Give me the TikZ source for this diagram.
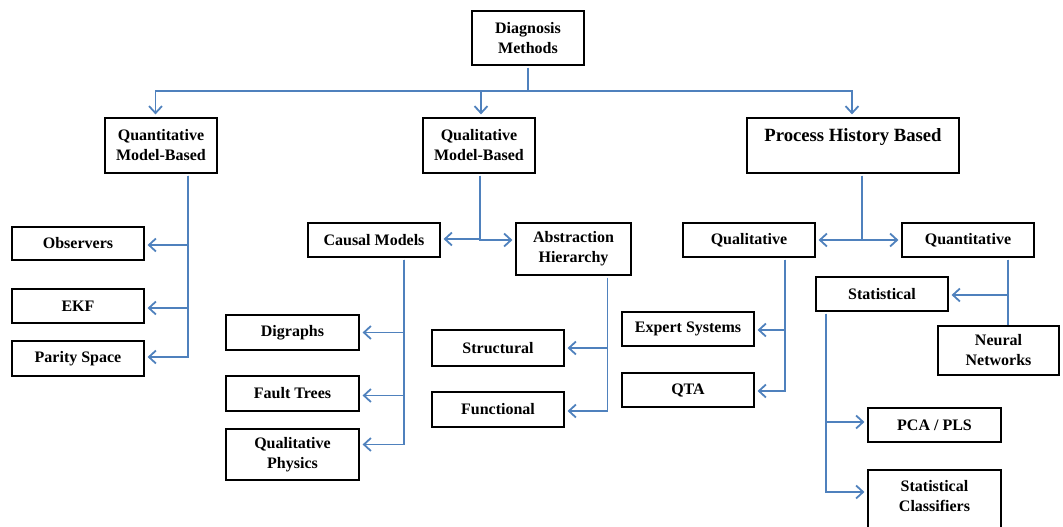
\documentclass[tikz,border=0pt]{standalone}
\usepackage{fontspec}
\setmainfont{Liberation Serif}
\usetikzlibrary{arrows.meta}
\definecolor{lineblue}{RGB}{79,129,189}
\begin{document}
\begin{tikzpicture}[x=1pt,y=-1pt,
  box/.style={draw=black, line width=2.6pt, rectangle, inner sep=0pt, align=center,
    minimum width=132pt, minimum height=34pt, font=\fontsize{16}{20}\selectfont\bfseries},
  txt/.style={inner sep=0pt, align=center, font=\fontsize{16}{20}\selectfont\bfseries},
  conn/.style={draw=lineblue, line width=1.8pt},
  arr/.style={conn, shorten >=1pt, -{Straight Barb[length=7pt,width=13pt]}},
  ]
\useasboundingbox (0,0) rectangle (1063,527);
% level 0
\node[box, minimum width=112pt, minimum height=54pt] (diag) at (528,38) {Diagnosis\\Methods};
% level 1
\node[box, minimum width=112pt, minimum height=55pt] (qmb) at (161,145.5) {Quantitative\\Model-Based};
\node[box, minimum width=112pt, minimum height=55pt] (qlmb) at (479,145.5) {Qualitative\\Model-Based};
\node[box, minimum width=212pt, minimum height=55pt] (phb) at (853,145.5) {};
\node[txt, font=\fontsize{18.7}{22}\selectfont\bfseries] (phbt) at (853,137) {Process History Based};
% quantitative model based children
\node[box, minimum height=33pt] (obs) at (78,243.5) {Observers};
\node[box] (ekf) at (78,306) {EKF};
\node[box, minimum height=35pt] (par) at (78,358.5) {Parity Space};
% qualitative model based children
\node[box] (causal) at (374,240) {Causal Models};
\node[box, minimum width=115pt, minimum height=52pt] (abs) at (573.5,249) {Abstraction\\Hierarchy};
\node[box, minimum width=133pt, minimum height=35pt] (dig) at (292.5,332.5) {Digraphs};
\node[box, minimum width=133pt, minimum height=35pt] (ft) at (292.5,393.5) {Fault Trees};
\node[box, minimum width=133pt, minimum height=51pt] (qp) at (292.5,454.5) {Qualitative\\Physics};
\node[box, minimum height=36pt] (str) at (498,348) {Structural};
\node[box, minimum height=35pt] (fun) at (498,409.5) {Functional};
% process history children
\node[box] (ql) at (749,240) {Qualitative};
\node[box] (qn) at (968,240) {Quantitative};
\node[box] (exp) at (688,329) {Expert Systems};
\node[box] (qta) at (688,390) {QTA};
\node[box] (stat) at (882,294) {Statistical};
\node[box, minimum width=121pt, minimum height=49pt] (nn) at (998.5,350.5) {Neural\\Networks};
\node[box, minimum width=133pt] (pca) at (934.5,425) {PCA / PLS};
\node[box, minimum width=133pt, minimum height=61pt] (sc) at (934.5,500.5) {};
\node[txt] (sct) at (934.5,496) {Statistical\\Classifiers};
% level 0 -> level 1
\coordinate (j0) at ([yshift=-1.3pt]diag.south);
\coordinate (bus) at (528,91);
\draw[conn] (j0) -- (bus);
\draw[arr] (bus) -| ([xshift=-5.5pt,yshift=1.3pt]qmb.north);
\draw[arr] (bus) -| ([xshift=2pt,yshift=1.3pt]qlmb.north);
\draw[arr] (bus) -| ([xshift=-1pt,yshift=1.3pt]phb.north);
% quantitative model-based
\coordinate (t1) at ([xshift=27pt,yshift=-1.3pt]qmb.south);
\draw[arr] (t1) |- ([xshift=1.3pt,yshift=-1.5pt]obs.east);
\draw[arr] (t1) |- ([xshift=1.3pt,yshift=-2pt]ekf.east);
\draw[arr] (t1) |- ([xshift=1.3pt,yshift=1.5pt]par.east);
% qualitative model-based
\coordinate (t2) at ([xshift=1pt,yshift=-1.3pt]qlmb.south);
\draw[arr] (t2) |- ([xshift=1.3pt,yshift=1pt]causal.east);
\draw[arr] (t2) |- ([xshift=-1.3pt]causal.east -| abs.west);
\coordinate (t3) at ([xshift=30pt,yshift=-1.3pt]causal.south);
\draw[arr] (t3) |- ([xshift=1.3pt]dig.east);
\draw[arr] (t3) |- ([xshift=1.3pt,yshift=-2pt]ft.east);
\draw[arr] (t3) |- ([xshift=1.3pt,yshift=10pt]qp.east);
\coordinate (t4) at ([xshift=34pt,yshift=-1.3pt]abs.south);
\draw[arr] (t4) |- ([xshift=1.3pt]str.east);
\draw[arr] (t4) |- ([xshift=1.3pt,yshift=-1.5pt]fun.east);
% process history based
\coordinate (t5) at ([xshift=9pt,yshift=-1.3pt]phb.south);
\draw[arr] (t5) |- ([xshift=1.3pt]ql.east);
\draw[arr] (t5) |- ([xshift=-1.3pt]ql.east -| qn.west);
\coordinate (t6) at ([xshift=36pt,yshift=-1.3pt]ql.south);
\draw[arr] (t6) |- ([xshift=1.3pt,yshift=-1pt]exp.east);
\draw[arr] (t6) |- ([xshift=1.3pt,yshift=-1pt]qta.east);
\coordinate (t7) at ([xshift=40pt,yshift=-1.3pt]qn.south);
\draw[conn] (t7) -- (t7 |- nn.north);
\draw[arr] (t7) |- ([xshift=1.3pt,yshift=-1pt]stat.east);
\coordinate (t8) at ([xshift=-56pt,yshift=-1.3pt]stat.south);
\draw[arr] (t8) |- ([xshift=-1.3pt,yshift=3pt]pca.west);
\draw[arr] (t8) |- ([xshift=-1.3pt,yshift=8.5pt]sc.west);
\end{tikzpicture}
\end{document}
